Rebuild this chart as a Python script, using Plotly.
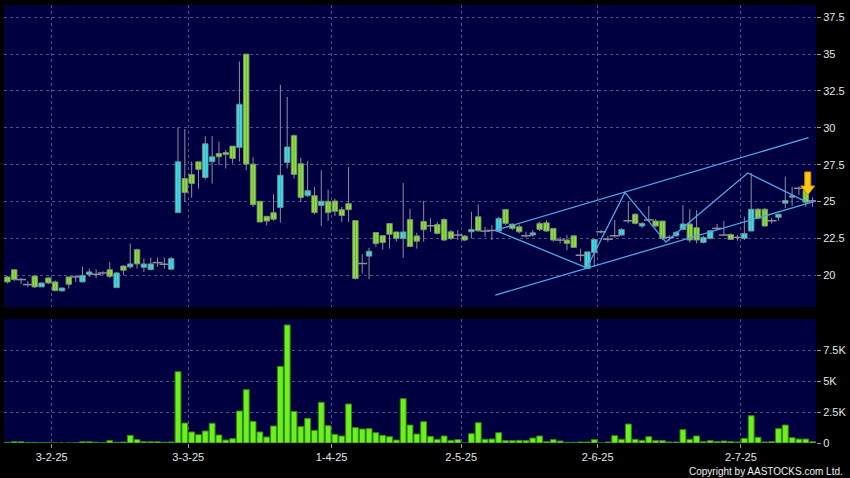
import pandas as pd
import plotly.graph_objects as go
from plotly.subplots import make_subplots

# ---------------- data ----------------
holidays = ['2025-01-29', '2025-01-30', '2025-01-31', '2025-04-04', '2025-04-18',
            '2025-04-21', '2025-05-01', '2025-05-05', '2025-07-01']
dates = [d for d in pd.bdate_range('2025-01-20', '2025-07-16')
         if d.strftime('%Y-%m-%d') not in holidays]

# candle kind: C = up (cyan), G = down (green), F = flat (grey dash)
kinds = list("GGFFGCGGCGFCCFFGCGCGCCFFC"
             "CGGGCCGGGCGGGGGCCG"
             "GCGCGGGGGFCGGGGCGG"
             "GFGGGFGCGFFCGGGFCGGG"
             "FGGFCCFFFCFGCFGGFCC"
             "GGCCFFGFCCGGFCCCFGF")

body_top = [19.89, 20.38, 19.71, 19.37, 19.95, 19.48, 19.82, 19.55, 19.14, 19.89, 19.89, 20.00, 20.23,
            20.07, 20.16, 20.38, 20.16, 20.63, 20.77, 21.74, 20.77, 20.77, 20.86, 20.75, 21.13,
            27.70, 26.56, 26.84, 27.70, 28.92, 28.04, 28.26, 28.33, 28.76, 31.60, 35.00, 27.54,
            25.02, 24.00, 24.25, 26.79, 28.70, 29.47,
            27.57, 25.74, 25.40, 25.02, 25.02, 25.04, 24.45, 24.86, 23.71, 20.80, 21.63, 22.90,
            22.69, 23.51, 22.94, 22.94, 23.78, 22.67,
            23.65, 23.36, 23.45, 23.79, 22.95, 22.73, 22.66, 23.11, 23.97, 23.00, 23.04, 23.86,
            24.47, 23.47, 23.29, 22.68, 22.88, 23.52, 23.56, 23.18,
            22.39, 22.39, 22.68, 21.36, 21.59, 22.43, 22.95, 22.45, 22.68, 23.11, 23.70, 24.14,
            23.52, 23.75, 23.68, 23.68, 22.57, 22.91, 23.48,
            23.48, 23.23, 22.57, 23.02, 23.18, 22.73, 22.77, 22.57, 22.84, 24.48, 24.48, 24.48,
            23.70, 24.14, 25.07, 25.39, 25.90, 25.75, 25.05]

body_bot = [19.55, 19.71, 19.71, 19.37, 19.21, 19.21, 19.48, 18.96, 18.94, 19.39, 19.89, 19.55, 20.05,
            20.07, 20.16, 19.93, 19.16, 20.34, 20.57, 20.77, 20.54, 20.38, 20.86, 20.75, 20.41,
            24.25, 25.61, 26.22, 27.18, 26.63, 27.70, 28.04, 28.20, 27.92, 28.67, 27.54, 24.79,
            23.61, 23.68, 23.80, 24.59, 27.65, 26.84,
            25.27, 25.40, 24.25, 24.73, 24.25, 24.34, 24.05, 24.45, 19.78, 20.80, 21.30, 22.15,
            22.22, 22.78, 22.49, 22.49, 21.95, 22.31,
            23.09, 23.36, 22.84, 22.39, 22.50, 22.73, 22.39, 22.95, 23.02, 23.00, 23.04, 23.00,
            23.52, 23.18, 22.95, 22.68, 22.73, 23.11, 23.00, 22.39,
            22.39, 22.16, 21.89, 21.36, 20.45, 21.55, 22.95, 22.45, 22.68, 22.73, 23.70, 23.52,
            23.34, 23.75, 23.34, 22.50, 22.57, 22.68, 23.11,
            22.39, 22.39, 22.23, 22.50, 23.18, 22.73, 22.43, 22.57, 22.50, 23.00, 23.86, 23.34,
            23.70, 23.93, 24.89, 25.30, 25.90, 24.95, 25.05]

highs = [19.95, 20.40, 19.82, 19.60, 20.00, 19.50, 19.90, 19.65, 19.16, 19.89, 20.00, 20.59, 20.45,
         20.40, 20.28, 20.90, 20.23, 20.68, 22.15, 21.81, 21.13, 21.20, 21.20, 21.20, 21.25,
         30.03, 29.92, 27.70, 27.70, 29.44, 29.44, 29.06, 28.50, 28.76, 34.50, 35.00, 28.00,
         25.02, 24.00, 25.50, 32.91, 32.10, 29.56,
         27.97, 27.75, 25.99, 27.12, 25.81, 25.20, 24.63, 27.34, 23.71, 21.43, 21.86, 22.90,
         22.69, 23.51, 22.94, 26.26, 24.52, 22.89,
         25.04, 23.86, 23.63, 23.86, 23.07, 23.07, 22.73, 24.31, 24.81, 23.29, 23.40, 23.97,
         24.47, 23.52, 23.45, 22.95, 23.07, 23.63, 23.74, 23.18,
         22.61, 22.73, 22.68, 21.80, 21.59, 22.43, 23.07, 22.68, 23.75, 23.20, 25.00, 24.20,
         23.60, 24.70, 23.80, 23.68, 22.73, 23.00, 24.77,
         24.48, 24.43, 22.68, 23.07, 23.48, 23.70, 22.84, 22.73, 23.98, 26.93, 24.55, 24.55,
         23.90, 24.20, 26.70, 26.00, 26.02, 25.90, 25.30]

lows = [19.45, 19.60, 19.40, 19.20, 19.15, 19.20, 19.40, 18.92, 18.92, 19.10, 19.55, 19.50, 19.89,
        19.80, 20.00, 19.82, 19.16, 20.00, 20.45, 20.45, 20.23, 20.34, 20.57, 20.45, 20.34,
        24.25, 24.98, 25.25, 25.88, 26.50, 26.22, 27.47, 27.24, 27.58, 27.70, 27.13, 24.63,
        23.61, 23.39, 23.70, 23.57, 27.24, 26.56,
        24.97, 25.31, 24.14, 23.33, 23.69, 24.03, 23.62, 23.62, 19.72, 20.12, 19.74, 21.93,
        21.75, 21.81, 22.30, 21.18, 21.95, 21.81,
        22.28, 22.95, 22.77, 22.32, 22.39, 22.39, 22.32, 22.50, 22.95, 22.61, 22.39, 22.95,
        23.41, 23.07, 22.84, 22.55, 22.61, 23.00, 22.95, 22.27,
        22.16, 21.70, 21.89, 20.95, 20.45, 20.57, 22.84, 22.27, 22.55, 22.68, 23.52, 23.45,
        23.20, 23.64, 23.25, 22.40, 22.34, 22.60, 23.05,
        22.23, 22.16, 22.16, 22.43, 23.07, 22.66, 22.39, 22.34, 22.39, 23.00, 23.80, 23.30,
        23.50, 23.70, 24.55, 24.70, 25.45, 24.65, 24.65]

volumes = [50, 100, 100, 50, 50, 30, 20, 0, 0, 0, 10, 100, 100, 60, 30, 190, 60, 80, 620, 270,
           100, 100, 100, 60, 80,
           5750, 1610, 890, 670, 970, 1590, 645, 240, 350, 2580, 4300, 1750, 890, 485, 1370,
           6180, 9515, 2550,
           1320, 1990, 1020, 3280, 1400, 700, 565, 3145, 1240, 1130, 1160, 830, 620, 510, 240,
           3575, 1450, 725,
           1720, 540, 300, 565, 215, 270, 0, 750, 1640, 300, 320, 830, 190, 190, 215, 190, 400,
           565, 110, 270,
           160, 55, 55, 80, 80, 270, 0, 80, 590, 300, 1530, 300, 215, 510, 190, 190, 80, 80, 1075,
           300, 565, 110, 190, 110, 160, 110, 80, 375, 2200, 460, 80, 110, 1160, 1450, 430, 320,
           320, 110]

# drawn trend lines (x in trading-day index, y in price)
channel_upper_x = [71.5, 117.4]
channel_upper_y = [23.05, 29.33]
channel_lower_x = [71.5, 118.3]
channel_lower_y = [18.66, 25.02]
zigzag_x = [71.5, 84.9, 90.5, 96.5, 108.5, 117.0]
zigzag_y = [23.05, 20.50, 25.62, 22.25, 26.94, 25.00]
signal_index = 117
signal_price = 25.45

price_ticks = [20, 22.5, 25, 27.5, 30, 32.5, 35, 37.5]
vol_ticks = [0, 2500, 5000, 7500]
vol_tick_text = ['0', '2.5K', '5K', '7.5K']

# ---------------- styling ----------------
NAVY = '#000040'
GRID = '#50508a'
CYAN = '#22e8f8'
GREEN = '#84ec1c'
WICK = '#8e8e9c'
OUTLINE = '#7c8a7c'
VOL_FILL = '#6ef01e'
VOL_LINE = '#2f8a0c'
LINE_BLUE = '#4fa6e6'
TXT = '#e6e6e6'
FONT = 'Liberation Sans, Arial, sans-serif'

xpos = list(range(len(dates)))

# month boundary ticks: before first trading day of each month
tick_pos, tick_txt = [], []
for i in range(1, len(dates)):
    if dates[i].month != dates[i - 1].month:
        tick_pos.append(xpos[i] - 0.5)
        d = dates[i]
        tick_txt.append(f"{d.day}-{d.month}-{d.year % 100}")

fig = make_subplots(rows=2, cols=1, shared_xaxes=False)

# wicks (high-low) as one line trace with gaps
wx, wy = [], []
for i in xpos:
    wx += [i, i, None]
    wy += [lows[i], highs[i], None]
fig.add_trace(go.Scatter(x=wx, y=wy, mode='lines', line=dict(color=WICK, width=1),
                         showlegend=False, hoverinfo='skip'), row=1, col=1)

# bodies for up / down candles
body_idx = [i for i in xpos if kinds[i] != 'F']
fig.add_trace(go.Bar(
    x=[i for i in body_idx],
    y=[body_top[i] - body_bot[i] for i in body_idx],
    base=[body_bot[i] for i in body_idx],
    width=0.8,
    marker=dict(color=[CYAN if kinds[i] == 'C' else GREEN for i in body_idx],
                line=dict(color=OUTLINE, width=0.9)),
    showlegend=False, hoverinfo='skip'), row=1, col=1)

# flat candles (open == close)
flat_idx = [i for i in xpos if kinds[i] == 'F']
fig.add_trace(go.Scatter(
    x=flat_idx, y=[body_top[i] for i in flat_idx], mode='markers',
    marker=dict(symbol='line-ew', size=7, line=dict(color=WICK, width=1.5)),
    showlegend=False, hoverinfo='skip'), row=1, col=1)

for lx, ly in [(channel_upper_x, channel_upper_y), (channel_lower_x, channel_lower_y),
               (zigzag_x, zigzag_y)]:
    fig.add_trace(go.Scatter(x=lx, y=ly, mode='lines',
                             line=dict(color=LINE_BLUE, width=1.3),
                             showlegend=False, hoverinfo='skip'), row=1, col=1)

fig.add_trace(go.Bar(x=xpos, y=volumes, width=0.86,
                     marker=dict(color=VOL_FILL, line=dict(color=VOL_LINE, width=1)),
                     showlegend=False, hoverinfo='skip'), row=2, col=1)

# yellow signal arrow (pixel-sized path anchored on the candle)
fig.add_shape(type='path', xref='x', yref='y', xsizemode='pixel', ysizemode='pixel',
              xanchor=xpos[signal_index], yanchor=signal_price,
              path='M 2,0 L -5,9 L -1,9 L -1,23 L 5,23 L 5,9 L 9,9 Z',
              fillcolor='#f9c80e', line=dict(color='#d08a00', width=1), layer='above')

axis_common = dict(range=[-0.5, len(dates) - 0.5], tickvals=tick_pos, ticktext=tick_txt,
                   showgrid=True, gridcolor=GRID, griddash='dot', gridwidth=1,
                   zeroline=False, showline=False)

fig.update_layout(
    width=850, height=478,
    paper_bgcolor='black', plot_bgcolor=NAVY,
    margin=dict(l=4, r=34, t=5, b=35),
    showlegend=False, barmode='overlay',
    font=dict(family=FONT, color=TXT, size=11),
    xaxis=dict(**axis_common, showticklabels=False, ticks=''),
    xaxis2=dict(**axis_common, ticks='outside', ticklen=4, tickcolor='#9a9a9a',
                tickfont=dict(family=FONT, color=TXT, size=11)),
    yaxis=dict(domain=[0.3105, 1.0], side='right', range=[17.85, 38.33], tickvals=price_ticks,
               ticks='outside', ticklen=4, tickcolor='#9a9a9a', showgrid=True, gridcolor=GRID,
               griddash='dot', zeroline=False, showline=False,
               tickfont=dict(family=FONT, color=TXT, size=11)),
    yaxis2=dict(domain=[0.0, 0.2831], side='right', range=[0, 10000], tickvals=vol_ticks,
                ticktext=vol_tick_text, ticks='outside', ticklen=4, tickcolor='#9a9a9a',
                showgrid=True, gridcolor=GRID, griddash='dot', zeroline=False, showline=False,
                tickfont=dict(family=FONT, color=TXT, size=11)),
    hovermode=False,
)

fig.add_annotation(text='Copyright by AASTOCKS.com Ltd.', xref='paper', yref='paper',
                   x=1, y=0, xanchor='right', yanchor='middle', xshift=29, yshift=-28,
                   showarrow=False, font=dict(family=FONT, color='#f0f0f0', size=10))

fig.write_html("out.html", config={'displayModeBar': False},
               post_script="document.body.style.margin='0px';")
